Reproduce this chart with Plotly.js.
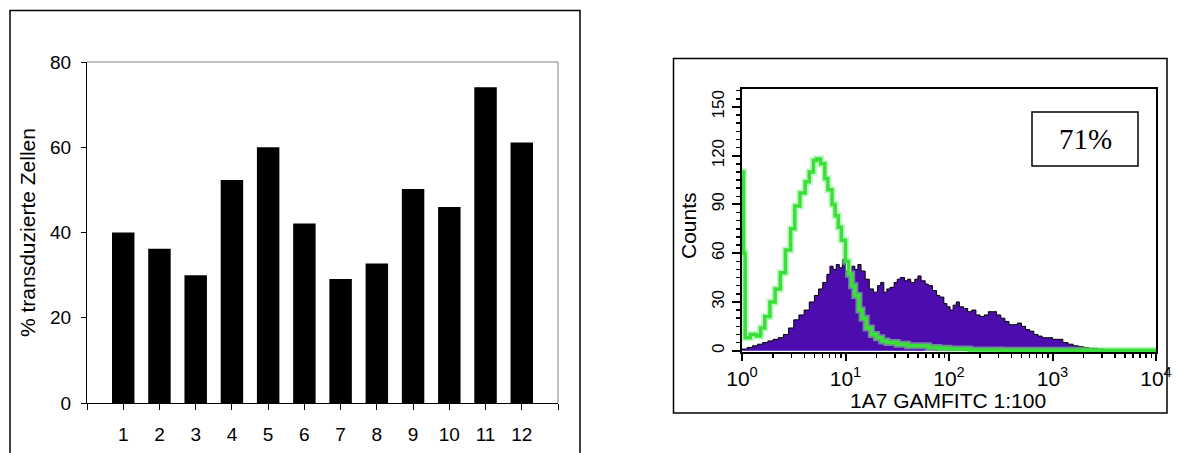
<!DOCTYPE html>
<html>
<head>
<meta charset="utf-8">
<script src="https://cdn.plot.ly/plotly-3.0.1.min.js"></script>
<style>
  html, body { margin: 0; padding: 0; background: #fff; }
  #chart { width: 1177px; height: 453px; }
</style>
</head>
<body>
<div id="chart"></div>
<script>
// ---- Left chart: bar data ----
const barCategories = [1, 2, 3, 4, 5, 6, 7, 8, 9, 10, 11, 12];
const barValues = [40, 36.2, 30, 52.3, 60, 42.1, 29.1, 32.7, 50.2, 46, 74.1, 61.1];
const barTickText = ['1', '2', '3', '4', '5', '6', '7', '8', '9', '10', '11', '12'];
const barEdgeTicks = [0, 13];
const barYTitle = '% transduzierte Zellen';

// ---- Right chart: flow cytometry histograms (x given as log10 of fluorescence) ----
const purpleLogX = [0.00, 0.05, 0.10, 0.15, 0.20, 0.25, 0.30, 0.35, 0.40, 0.45, 0.50, 0.55, 0.60, 0.65, 0.70, 0.74, 0.78, 0.82, 0.85, 0.88,
  0.91, 0.94, 0.97, 1.00, 1.03, 1.06, 1.09, 1.12, 1.15, 1.19, 1.23, 1.27, 1.31, 1.34, 1.37, 1.40, 1.43, 1.47, 1.50, 1.53,
  1.57, 1.60, 1.63, 1.67, 1.70, 1.73, 1.77, 1.80, 1.84, 1.88, 1.91, 1.95, 1.98, 2.01, 2.04, 2.07, 2.10, 2.14, 2.18, 2.22,
  2.26, 2.30, 2.34, 2.38, 2.42, 2.46, 2.50, 2.54, 2.58, 2.62, 2.66, 2.70, 2.74, 2.78, 2.82, 2.86, 2.90, 2.95, 3.00, 3.05,
  3.10, 3.15, 3.20, 3.25, 3.30, 3.35, 3.43, 3.50, 4.00];
const purpleCounts = [1, 2, 3, 4, 5, 6, 7, 8, 10, 14, 19, 22, 25, 30, 34, 38, 42, 47, 52, 50,
  53, 51, 56, 49, 47, 52, 50, 53, 49, 44, 38, 36, 40, 42, 36, 38, 39, 42, 44, 45,
  43, 44, 42, 44, 46, 43, 41, 40, 37, 34, 33, 29, 27, 25, 28, 30, 27, 26, 24, 25,
  22, 21, 22, 24, 24, 22, 20, 18, 16, 16, 17, 15, 13, 12, 10, 9, 8, 8, 7, 7,
  5, 4, 3, 2.5, 2, 1.5, 1, 0, 0];

const greenLogX = [0.000, 0.015, 0.03, 0.08, 0.14, 0.18, 0.22, 0.27, 0.32, 0.37, 0.42, 0.47, 0.51, 0.56, 0.61, 0.65, 0.69, 0.72, 0.76, 0.80,
  0.83, 0.87, 0.90, 0.93, 0.96, 1.00, 1.03, 1.06, 1.09, 1.13, 1.16, 1.20, 1.25, 1.30, 1.35, 1.40, 1.50, 1.60, 1.70, 1.80,
  1.90, 2.00, 2.20, 2.50, 3.00, 4.00];
const greenCounts = [110, 60, 8, 10, 9, 14, 21, 30, 38, 48, 62, 75, 89, 97, 104, 110, 117, 118, 115, 106,
  99, 90, 83, 76, 68, 55, 47, 40, 34, 25, 20, 14, 10, 8, 6, 5, 4, 3, 3, 2,
  1.5, 1, 0.5, 0.3, 0.2, 0.2];

const histTickVals = [1, 10, 100, 1000, 10000];
const histTickText = ['10<sup>0</sup>', '10<sup>1</sup>', '10<sup>2</sup>', '10<sup>3</sup>', '10<sup>4</sup>'];
const histYTickVals = [0, 30, 60, 90, 120, 150];
const histXTitle = '1A7 GAMFITC 1:100';
const histYTitle = 'Counts';
const percentLabel = '71%';

// ---- geometry helpers (pixel -> paper) ----
const W = 1177, H = 453;
const px = v => v / W;
const py = v => 1 - v / H;

// minor log ticks (axis styling only)
const minorLog = [];
for (let d = 0; d < 4; d++) for (let m = 2; m <= 9; m++) minorLog.push(m * Math.pow(10, d));

const toVal = arr => arr.map(v => Math.pow(10, v));

const traces = [
  {
    type: 'bar', x: barCategories, y: barValues, xaxis: 'x', yaxis: 'y',
    marker: { color: '#000000', line: { width: 0 } }, width: 0.62, hoverinfo: 'x+y'
  },
  {
    type: 'scatter', mode: 'lines', x: toVal(purpleLogX), y: purpleCounts, xaxis: 'x2', yaxis: 'y2',
    line: { color: '#000000', width: 1, shape: 'hv' }, fill: 'tozeroy', fillcolor: '#4c0cae'
  },
  {
    type: 'scatter', mode: 'lines', x: toVal(greenLogX), y: greenCounts, xaxis: 'x2', yaxis: 'y2',
    line: { color: 'rgba(140,240,140,0.55)', width: 7, shape: 'hv' }, hoverinfo: 'skip'
  },
  {
    type: 'scatter', mode: 'lines', x: toVal(greenLogX), y: greenCounts, xaxis: 'x2', yaxis: 'y2',
    line: { color: '#3ae03a', width: 3.5, shape: 'hv' }
  }
];

const leftFont = { family: 'Liberation Sans, Arial, sans-serif', size: 19, color: '#000' };
const rightTickFont = { family: 'Liberation Sans, Arial, sans-serif', size: 17, color: '#000' };
const rightXTickFont = { family: 'Liberation Sans, Arial, sans-serif', size: 21, color: '#000' };

const layout = {
  width: W, height: H,
  margin: { l: 0, r: 0, t: 0, b: 0 },
  paper_bgcolor: '#ffffff', plot_bgcolor: '#ffffff',
  showlegend: false,
  xaxis: {
    domain: [px(87), px(558)], anchor: 'y', range: [0, 13],
    tickmode: 'array', tickvals: barCategories, ticktext: barTickText,
    ticks: 'outside', ticklen: 6, tickcolor: '#000', tickwidth: 1,
    minor: { tickmode: 'array', tickvals: barEdgeTicks, ticks: 'outside', ticklen: 6, tickcolor: '#000', tickwidth: 1, showgrid: false },
    showline: true, linecolor: '#000', linewidth: 1, showgrid: false, zeroline: false,
    tickfont: leftFont, ticklabelstandoff: 8, fixedrange: true
  },
  yaxis: {
    domain: [py(403), py(62)], anchor: 'x', range: [0, 80], dtick: 20, tick0: 0,
    ticks: 'outside', ticklen: 5, tickcolor: '#000', tickwidth: 1,
    showline: true, linecolor: '#000', linewidth: 1, showgrid: false, zeroline: false,
    tickfont: leftFont, ticklabelstandoff: 6, fixedrange: true
  },
  xaxis2: {
    domain: [px(742), px(1156)], anchor: 'y2', type: 'log', range: [0, 4],
    tickmode: 'array', tickvals: histTickVals, ticktext: histTickText,
    ticks: 'outside', ticklen: 7, tickcolor: '#000', tickwidth: 2,
    minor: { tickmode: 'array', tickvals: minorLog, ticks: 'outside', ticklen: 4, tickcolor: '#000', tickwidth: 1.5, showgrid: false },
    showline: true, mirror: true, linecolor: '#000', linewidth: 2, showgrid: false, zeroline: false,
    tickfont: rightXTickFont, ticklabelstandoff: 0, fixedrange: true
  },
  yaxis2: {
    domain: [py(352), py(89)], anchor: 'x2', range: [-0.8, 161],
    tickmode: 'array', tickvals: histYTickVals, tickangle: -90,
    ticks: 'outside', ticklen: 8, tickcolor: '#000', tickwidth: 2,
    minor: { dtick: 5, tick0: 0, ticks: 'outside', ticklen: 4, tickcolor: '#000', tickwidth: 1.5, showgrid: false },
    showline: true, mirror: true, linecolor: '#000', linewidth: 2, showgrid: false, zeroline: false,
    tickfont: rightTickFont, ticklabelstandoff: 1, fixedrange: true
  },
  shapes: [
    // left outer frame (bottom runs past the image edge)
    { type: 'rect', xref: 'paper', yref: 'paper', x0: px(10), x1: px(580), y0: -0.1, y1: py(10.5),
      line: { color: '#000', width: 1.5 }, fillcolor: 'rgba(0,0,0,0)', layer: 'below' },
    // plot-area border of bar chart (top and right, grey)
    { type: 'line', xref: 'x domain', yref: 'y domain', x0: 0, x1: 1, y0: 1, y1: 1, line: { color: '#808080', width: 1 } },
    { type: 'line', xref: 'x domain', yref: 'y domain', x0: 1, x1: 1, y0: 0, y1: 1, line: { color: '#808080', width: 1 } },
    // right outer frame
    { type: 'rect', xref: 'paper', yref: 'paper', x0: px(673.5), x1: px(1167), y0: py(413), y1: py(58.5),
      line: { color: '#000', width: 1.5 }, fillcolor: 'rgba(0,0,0,0)', layer: 'below' },
    // percentage box
    { type: 'rect', xref: 'paper', yref: 'paper', x0: px(1032), x1: px(1138), y0: py(166), y1: py(112),
      line: { color: '#000', width: 1.5 }, fillcolor: '#ffffff' }
  ],
  annotations: [
    { text: barYTitle, xref: 'paper', yref: 'paper', x: px(28), y: py(233), textangle: -90,
      showarrow: false, font: { family: 'Liberation Sans, Arial, sans-serif', size: 21, color: '#000' }, xanchor: 'center', yanchor: 'middle' },
    { text: histYTitle, xref: 'paper', yref: 'paper', x: px(688), y: py(226), textangle: -90,
      showarrow: false, font: { family: 'Liberation Sans, Arial, sans-serif', size: 21, color: '#000' }, xanchor: 'center', yanchor: 'middle' },
    { text: histXTitle, xref: 'paper', yref: 'paper', x: px(948), y: py(400),
      showarrow: false, font: { family: 'Liberation Sans, Arial, sans-serif', size: 21, color: '#000' }, xanchor: 'center', yanchor: 'middle' },
    { text: percentLabel, xref: 'paper', yref: 'paper', x: px(1085), y: py(139),
      showarrow: false, font: { family: 'Liberation Serif, Times New Roman, serif', size: 29, color: '#000' }, xanchor: 'center', yanchor: 'middle' }
  ]
};

Plotly.newPlot('chart', traces, layout, { staticPlot: true, displayModeBar: false });
</script>
</body>
</html>
